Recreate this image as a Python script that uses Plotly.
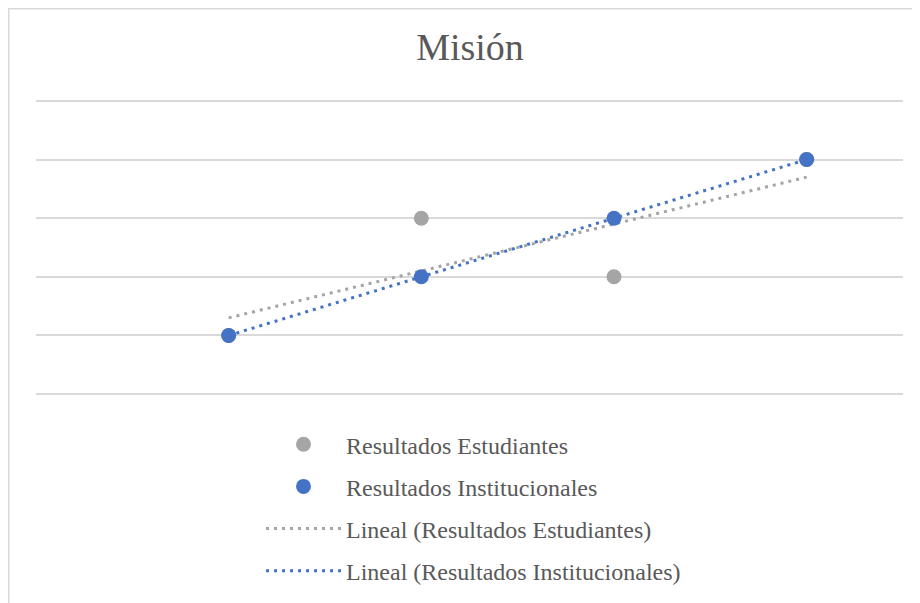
import numpy as np
import plotly.graph_objects as go

# Data
x_vals = [1, 2, 3, 4]
estudiantes = [1, 3, 2, 4]
institucionales = [1, 2, 3, 4]
title_text = "Misión"
names = ["Resultados Estudiantes", "Resultados Institucionales",
         "Lineal (Resultados Estudiantes)", "Lineal (Resultados Institucionales)"]

GRAY = "#A5A5A5"
BLUE = "#4472C4"
TEXT = "#595959"
FONT = "Liberation Serif, Times New Roman, serif"

W, H = 920, 603
OFF = 8  # page body margin offset

# target pixel geometry (in reference image coords)
X_LEFT, X_RIGHT = 36, 903
Y_TOP, Y_BOT = 101, 394
YMIN, YMAX = 0, 5
PAD = 0.05
upy = (Y_BOT - Y_TOP) / (YMAX - YMIN)

L = X_LEFT - OFF
R = W - (X_RIGHT - OFF)
T = Y_TOP - PAD * upy - OFF
B = H - (Y_BOT + PAD * upy - OFF)

def trend(xs, ys):
    m, c = np.polyfit(xs, ys, 1)
    xe = [min(xs), max(xs)]
    return xe, [m * v + c for v in xe]

fig = go.Figure()
xe, ye = trend(x_vals, estudiantes)
fig.add_trace(go.Scatter(x=xe, y=ye, mode="lines", name=names[2], legendrank=3,
                         legendgroup="c", line=dict(color=GRAY, width=3, dash="3px,5px")))
xi, yi = trend(x_vals, institucionales)
fig.add_trace(go.Scatter(x=xi, y=yi, mode="lines", name=names[3], legendrank=4,
                         legendgroup="d", line=dict(color=BLUE, width=3, dash="3px,5px")))
fig.add_trace(go.Scatter(x=x_vals, y=estudiantes, mode="markers", name=names[0], legendrank=1,
                         legendgroup="a", marker=dict(color=GRAY, size=15)))
fig.add_trace(go.Scatter(x=x_vals, y=institucionales, mode="markers", name=names[1], legendrank=2,
                         legendgroup="b", marker=dict(color=BLUE, size=15)))

pw = W - L - R
ph = H - T - B
def px_x(p):
    return (p - OFF - L) / pw
def px_y(p):
    return (H - B - (p - OFF)) / ph

# chart border (as close to the page corner as the figure allows)
fig.add_shape(type="rect", xref="paper", yref="paper",
              x0=px_x(OFF + 0.75), x1=px_x(960), y0=px_y(640), y1=px_y(OFF + 0.75),
              line=dict(color="#D9D9D9", width=1.5), fillcolor="rgba(0,0,0,0)", layer="below")

fig.update_layout(
    width=W, height=H,
    margin=dict(l=L, r=R, t=T, b=B, autoexpand=False),
    paper_bgcolor="white", plot_bgcolor="white",
    font=dict(family=FONT, color=TEXT),
    title=dict(text=title_text, x=px_x(470), xanchor="center", y=1 - (47 - OFF) / H, yanchor="middle",
               xref="paper", font=dict(size=38, color=TEXT, family=FONT)),
    xaxis=dict(range=[0, 4.5], visible=False, showgrid=False, zeroline=False),
    yaxis=dict(range=[YMIN - PAD, YMAX + PAD], tick0=0, dtick=1, showgrid=True,
               gridcolor="#D9D9D9", gridwidth=1.5,
               showticklabels=False, zeroline=False, showline=False, ticks=""),
    showlegend=True,
    legend=dict(orientation="v", x=px_x(261), xanchor="left", y=px_y(422), yanchor="top",
                font=dict(size=24, color=TEXT, family=FONT), itemwidth=75,
                traceorder="grouped", tracegroupgap=8, bgcolor="rgba(0,0,0,0)"),
)

fig.write_html("out.html")
